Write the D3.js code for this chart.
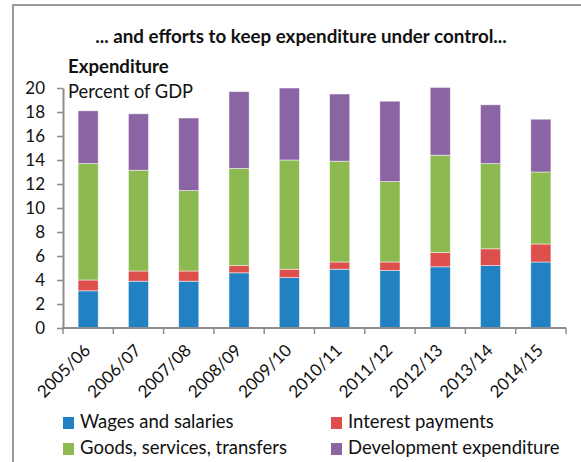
<!DOCTYPE html>
<html>
<head>
<meta charset="utf-8">
<script src="https://cdn.jsdelivr.net/npm/d3@7/dist/d3.min.js"></script>
<style>
  html, body { margin: 0; padding: 0; background: #fff; }
  svg { display: block; font-family: Lato, "Open Sans", sans-serif; }
</style>
</head>
<body>
<svg id="chart" width="581" height="462"></svg>
<script>
// Fiscal years and expenditure components, percent of GDP
const years = ["2005/06", "2006/07", "2007/08", "2008/09", "2009/10",
               "2010/11", "2011/12", "2012/13", "2013/14", "2014/15"];
const wages       = [3.1, 3.9, 3.9, 4.6, 4.2, 4.9, 4.8, 5.1, 5.2, 5.5];
const interest    = [0.9, 0.85, 0.85, 0.6, 0.7, 0.6, 0.7, 1.2, 1.4, 1.5];
const goods       = [9.7, 8.4, 6.7, 8.1, 9.1, 8.4, 6.7, 8.1, 7.1, 6.0];
const development = [4.4, 4.7, 6.05, 6.4, 6.0, 5.6, 6.7, 5.65, 4.9, 4.4];
const yTicks = [0, 2, 4, 6, 8, 10, 12, 14, 16, 18, 20];

const seriesNames = ["Wages and salaries", "Interest payments",
                     "Goods, services, transfers", "Development expenditure"];
const seriesColors = ["#2281c2", "#dd4f4c", "#8dba50", "#8a64a3"];

const rows = years.map((y, i) => ({
  year: y,
  s0: wages[i], s1: interest[i], s2: goods[i], s3: development[i]
}));
const keys = ["s0", "s1", "s2", "s3"];
const stacked = d3.stack().keys(keys)(rows);

const svg = d3.select("#chart");

// Frame lines along the top and left
svg.append("path")
  .attr("d", "M13,462 L13,5 L581,5")
  .attr("fill", "none").attr("stroke", "#9a9a9a").attr("stroke-width", 2);

// Title
svg.append("text")
  .attr("x", 301).attr("y", 43)
  .attr("text-anchor", "middle")
  .attr("font-weight", "bold").attr("font-size", 18.8)
  .attr("fill", "#111")
  .text("... and efforts to keep expenditure under control...");

const x = d3.scaleBand().domain(years).range([63, 566])
  .paddingInner(0.6).paddingOuter(0.3);
const y = d3.scaleLinear().domain([0, 20]).range([328, 88]);

// Stacked bars
svg.append("g").selectAll("g")
  .data(stacked).join("g")
  .attr("fill", (d, i) => seriesColors[i])
  .selectAll("rect")
  .data(d => d).join("rect")
  .attr("x", d => x(d.data.year))
  .attr("y", d => y(d[1]))
  .attr("width", x.bandwidth())
  .attr("height", d => y(d[0]) - y(d[1]))
  .attr("stroke", "rgba(255,255,255,0.6)")
  .attr("stroke-width", 0.8);

// Y axis
const yAxis = svg.append("g")
  .attr("transform", "translate(63,0)")
  .call(d3.axisLeft(y).tickValues(yTicks).tickSizeInner(6).tickSizeOuter(0).tickPadding(12));
yAxis.select(".domain").attr("stroke", "#8c8c8c").attr("stroke-width", 2);
yAxis.selectAll(".tick line").attr("stroke", "#8c8c8c").attr("stroke-width", 1.5);
yAxis.selectAll(".tick text")
  .attr("font-family", "Lato, sans-serif").attr("font-size", 17).attr("fill", "#111");

// X axis baseline and boundary ticks between categories
const step = x.step();
const xg = svg.append("g");
xg.append("line")
  .attr("x1", 62).attr("x2", x(years[years.length - 1]) + x.bandwidth() + step * 0.3)
  .attr("y1", y(0)).attr("y2", y(0))
  .attr("stroke", "#8c8c8c").attr("stroke-width", 2);
const bounds = years.map(c => x(c) - step * x.paddingInner() / 2)
  .concat([x(years[years.length - 1]) + x.bandwidth() + step * x.paddingInner() / 2]);
xg.selectAll("line.tk").data(bounds).join("line").attr("class", "tk")
  .attr("x1", d => d).attr("x2", d => d)
  .attr("y1", y(0)).attr("y2", y(0) + 6)
  .attr("stroke", "#8c8c8c").attr("stroke-width", 1.5);
xg.selectAll("text").data(years).join("text")
  .attr("transform", d => `translate(${x(d) + x.bandwidth() / 2 - 5},${y(0) + 15}) rotate(-45)`)
  .attr("text-anchor", "end").attr("dy", "0.7em")
  .attr("font-size", 17).attr("fill", "#111")
  .text(d => d);

// Axis caption
svg.append("text").attr("x", 68).attr("y", 73)
  .attr("font-weight", "bold").attr("font-size", 18.6).attr("fill", "#111")
  .text("Expenditure");
svg.append("text").attr("x", 68).attr("y", 98)
  .attr("font-size", 18.3).attr("fill", "#111")
  .text("Percent of GDP");

// Legend
const legendPos = [[63, 417], [331, 417], [63, 443], [331, 443]];
const lg = svg.append("g").selectAll("g")
  .data(seriesNames).join("g")
  .attr("transform", (d, i) => `translate(${legendPos[i][0]},${legendPos[i][1]})`);
lg.append("rect").attr("width", 11).attr("height", 12)
  .attr("fill", (d, i) => seriesColors[i]);
lg.append("text").attr("x", 17).attr("y", 11)
  .attr("font-size", 18.5).attr("fill", "#111")
  .text(d => d);
</script>
</body>
</html>
